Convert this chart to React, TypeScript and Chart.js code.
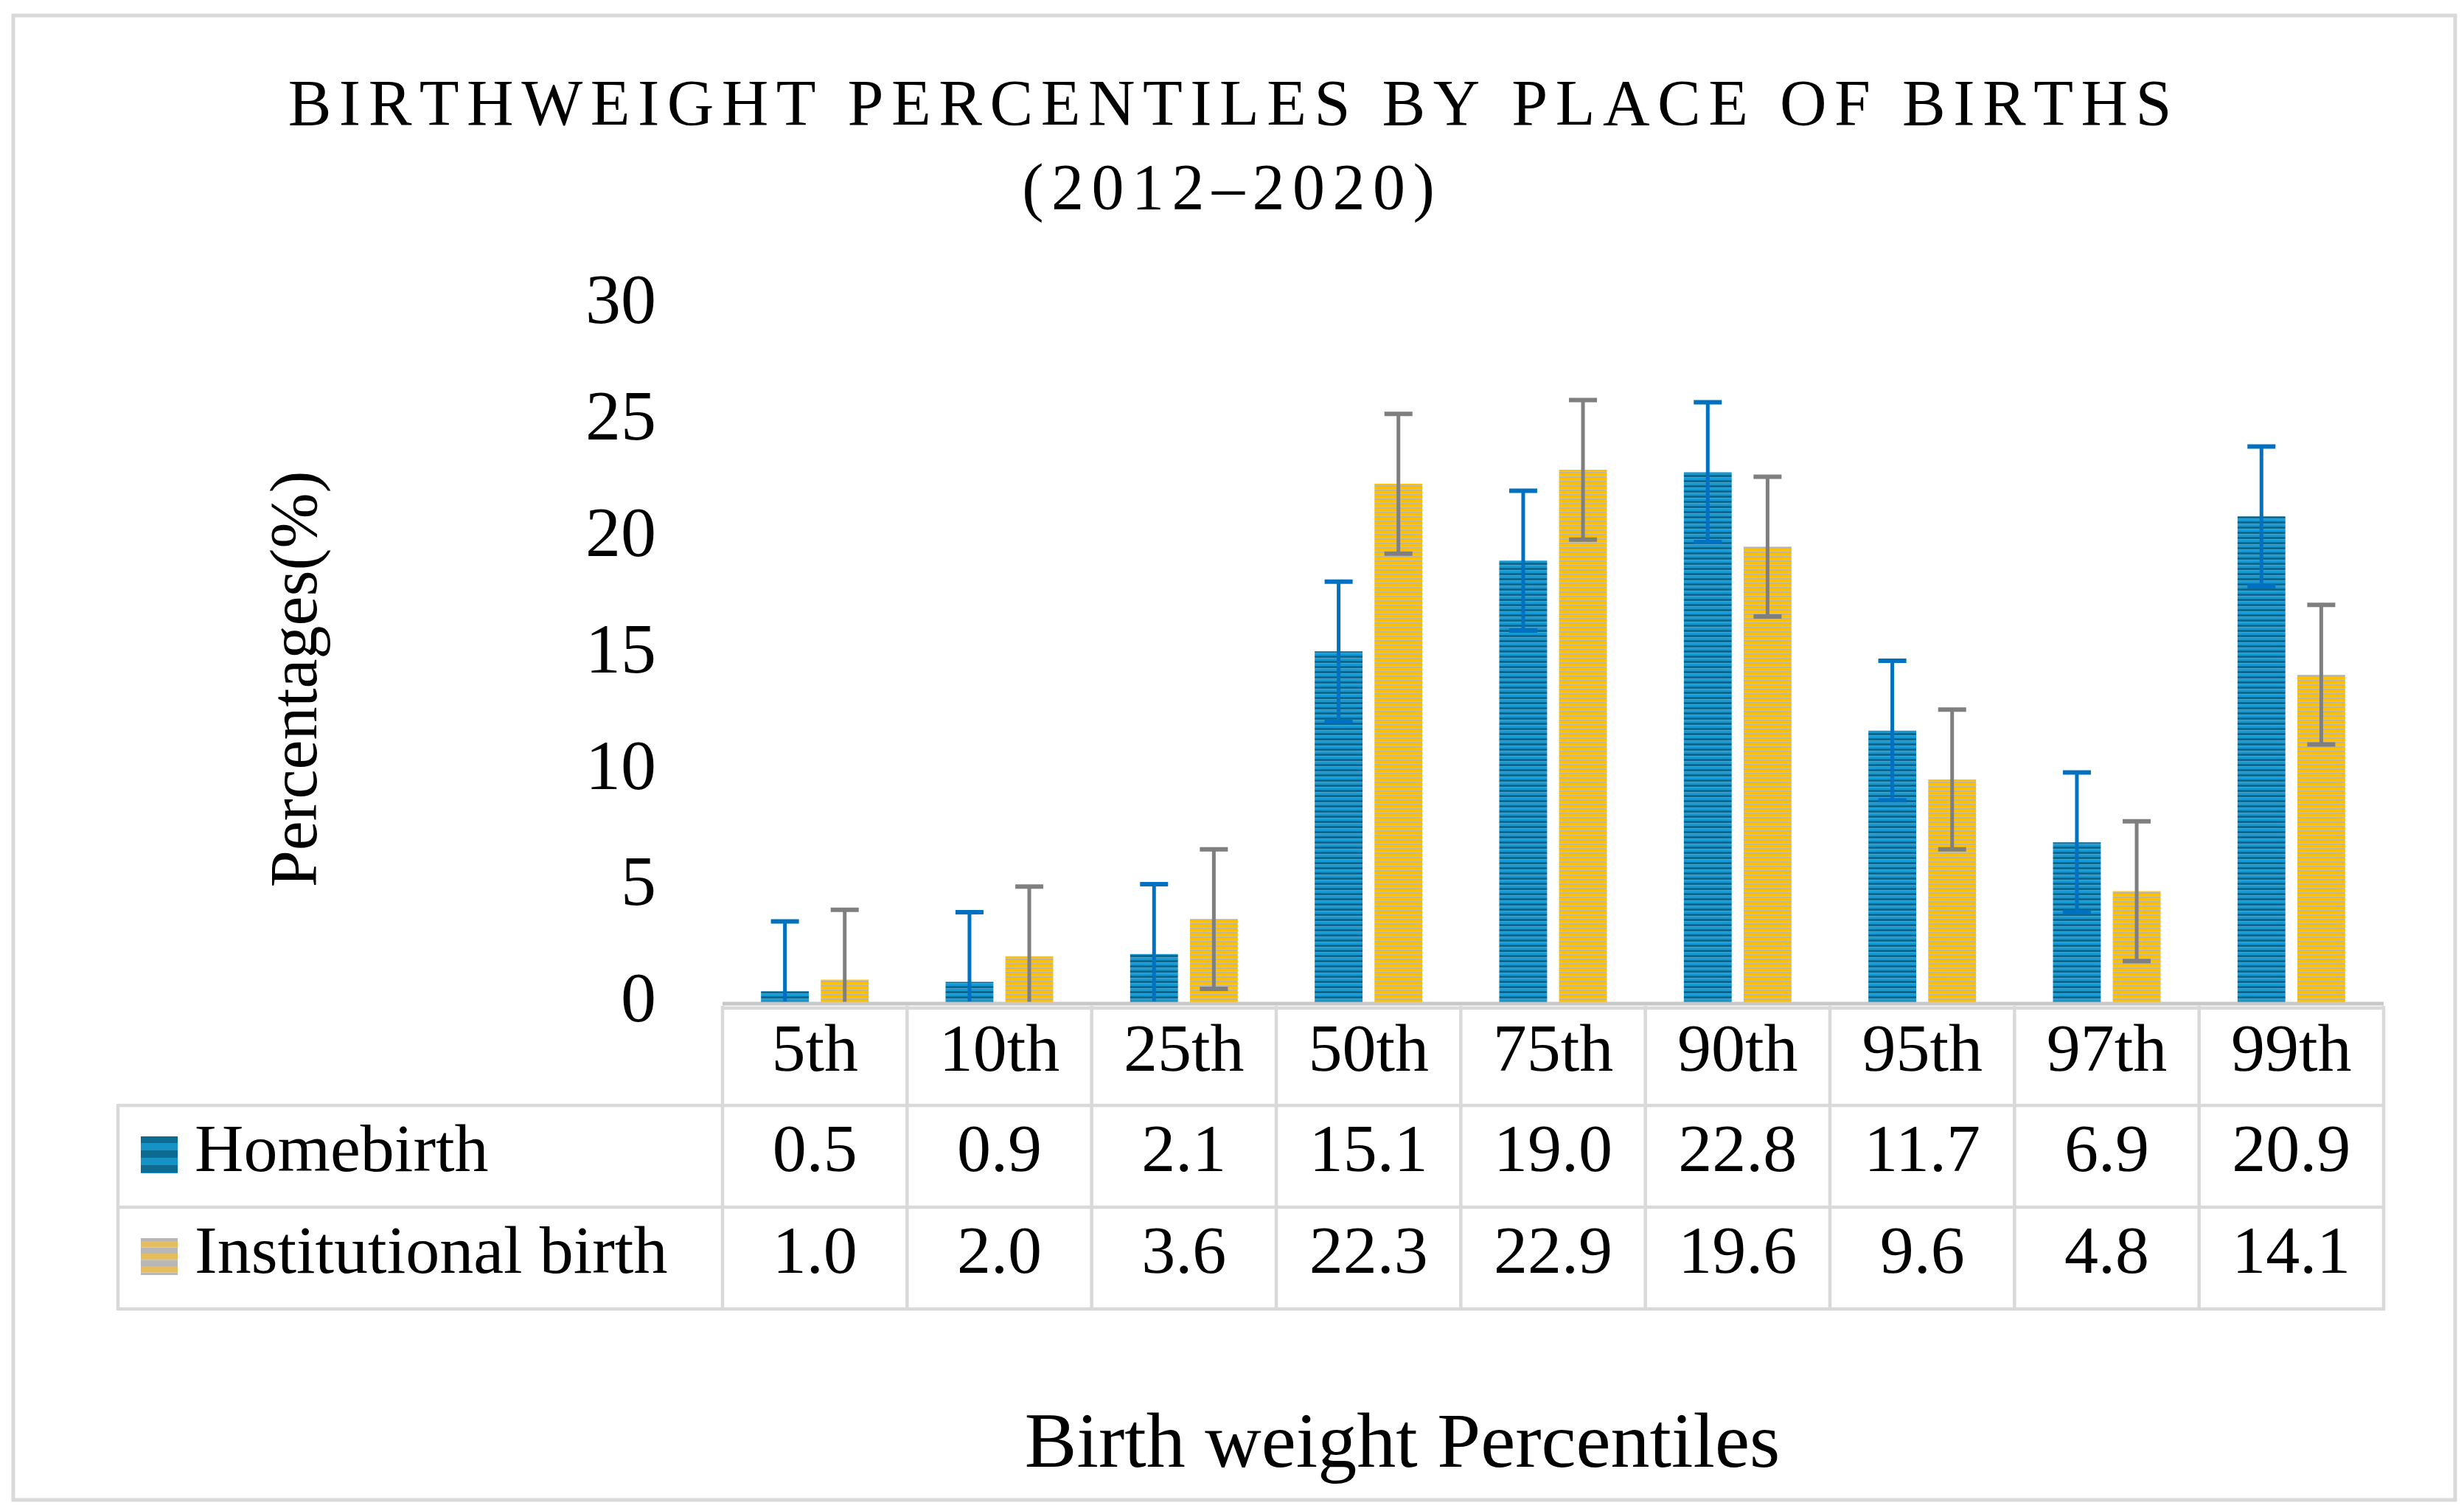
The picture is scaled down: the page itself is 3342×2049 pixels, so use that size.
import React, { useEffect, useRef } from 'react';
import { Chart, registerables } from 'chart.js';

Chart.register(...registerables);

// ---------------- data ----------------
const categories = ['5th', '10th', '25th', '50th', '75th', '90th', '95th', '97th', '99th'];
const homebirth = [0.5, 0.9, 2.1, 15.1, 19.0, 22.8, 11.7, 6.9, 20.9];
const institutional = [1.0, 2.0, 3.6, 22.3, 22.9, 19.6, 9.6, 4.8, 14.1];
const homebirthError = [3, 3, 3, 3, 3, 3, 3, 3, 3];
const institutionalError = [3, 3, 3, 3, 3, 3, 3, 3, 3];
const seriesNames = ['Homebirth', 'Institutional birth'];
const yMin = 0;
const yMax = 30;
const yStep = 5;
const titleLines = ['BIRTHWEIGHT PERCENTILES BY PLACE OF BIRTHS', '(2012\u20132020)'];
const yTitle = 'Percentages(%)';
const xTitle = 'Birth weight Percentiles';

// ---------------- styles ----------------
const W = 3342;
const H = 2049;
const FONT = '"Liberation Serif", "Times New Roman", serif';
const GRID = '#d9d9d9';

function makeStripePattern(a: string, b: string, band: number, tile: number) {
  const c = document.createElement('canvas');
  c.width = 8;
  c.height = tile;
  const g = c.getContext('2d')!;
  for (let y = 0, k = 0; y < tile; y += band, k++) {
    g.fillStyle = k % 2 === 0 ? a : b;
    g.fillRect(0, y, 8, band);
  }
  const ctx = document.createElement('canvas').getContext('2d')!;
  return ctx.createPattern(c, 'repeat')!;
}

function drawSpaced(ctx: CanvasRenderingContext2D, text: string, cx: number, y: number, spacing: number) {
  const chars = Array.from(text);
  const widths = chars.map((ch) => ctx.measureText(ch).width);
  const total = widths.reduce((s, v) => s + v, 0) + spacing * (chars.length - 1);
  let x = cx - total / 2;
  ctx.textAlign = 'left';
  chars.forEach((ch, i) => {
    ctx.fillText(ch, x, y);
    x += widths[i] + spacing;
  });
}

export default function App() {
  const ref = useRef<HTMLCanvasElement | null>(null);

  useEffect(() => {
    const canvas = ref.current!;
    const homePattern = makeStripePattern('#0a6790', '#1399d4', 3.5, 7);
    const instPattern = makeStripePattern('#ffc000', '#b5b5b5', 3.25, 6.5);
    const homeLegend = makeStripePattern('#0d6b91', '#1692c4', 10, 20);
    const instLegend = makeStripePattern('#e5bd5c', '#b7b7b7', 8.5, 17);

    const errors = [homebirthError, institutionalError];
    const errColors = ['#0070c0', '#7f7f7f'];
    const legendFills = [homeLegend, instLegend];
    const rows = [homebirth, institutional];

    const decor = {
      id: 'decor',
      beforeDraw(chart: any) {
        const ctx = chart.ctx;
        ctx.save();
        ctx.fillStyle = '#ffffff';
        ctx.fillRect(0, 0, chart.width, chart.height);
        ctx.restore();
      },
      afterDatasetsDraw(chart: any) {
        const ctx = chart.ctx as CanvasRenderingContext2D;
        const ys = chart.scales.y;
        ctx.save();
        ctx.lineCap = 'butt';
        chart.data.datasets.forEach((ds: any, d: number) => {
          const meta = chart.getDatasetMeta(d);
          ctx.strokeStyle = errColors[d];
          meta.data.forEach((bar: any, i: number) => {
            const v = ds.data[i];
            const e = errors[d][i];
            const hi = v + e;
            const lo = Math.max(yMin, v - e);
            const x = bar.x;
            const yHi = ys.getPixelForValue(hi);
            const yLo = ys.getPixelForValue(lo);
            ctx.lineWidth = 5;
            ctx.beginPath();
            ctx.moveTo(x, yLo);
            ctx.lineTo(x, yHi);
            ctx.stroke();
            const cap = 19;
            ctx.lineWidth = 6;
            ctx.beginPath();
            ctx.moveTo(x - cap, yHi);
            ctx.lineTo(x + cap, yHi);
            if (v - e >= yMin) {
              ctx.moveTo(x - cap, yLo);
              ctx.lineTo(x + cap, yLo);
            }
            ctx.stroke();
          });
        });
        ctx.restore();
      },
      afterDraw(chart: any) {
        const ctx = chart.ctx as CanvasRenderingContext2D;
        const area = chart.chartArea;
        const ys = chart.scales.y;
        const xs = chart.scales.x;
        const n = categories.length;
        const cw = (area.right - area.left) / n;
        const axisY = ys.getPixelForValue(yMin);
        const tableLeft = 160;
        const rowEdges = [axisY + 4, 1499, 1637, 1775];

        ctx.save();
        // axis line
        ctx.strokeStyle = '#c8c8c8';
        ctx.lineWidth = 5;
        ctx.beginPath();
        ctx.moveTo(area.left, axisY + 1);
        ctx.lineTo(area.right, axisY + 1);
        ctx.stroke();

        // table grid
        ctx.strokeStyle = GRID;
        ctx.lineWidth = 4.5;
        ctx.beginPath();
        ctx.moveTo(area.left, rowEdges[0] + 3);
        ctx.lineTo(area.right, rowEdges[0] + 3);
        for (let r = 1; r < rowEdges.length; r++) {
          ctx.moveTo(tableLeft, rowEdges[r]);
          ctx.lineTo(area.right + 2, rowEdges[r]);
        }
        for (let i = 0; i <= n; i++) {
          const x = area.left + i * cw;
          ctx.moveTo(x, rowEdges[0]);
          ctx.lineTo(x, rowEdges[3] + 2);
        }
        ctx.moveTo(tableLeft, rowEdges[1] - 2);
        ctx.lineTo(tableLeft, rowEdges[3] + 2);
        ctx.stroke();

        // table text
        ctx.fillStyle = '#000000';
        ctx.font = `92px ${FONT}`;
        ctx.textAlign = 'center';
        ctx.textBaseline = 'middle';
        const rowMid = (r: number) => (rowEdges[r] + rowEdges[r + 1]) / 2 - 4;
        categories.forEach((c, i) => {
          ctx.fillText(c, xs.getPixelForValue(i), rowMid(0));
        });
        rows.forEach((vals, r) => {
          vals.forEach((v, i) => {
            ctx.fillText(v.toFixed(1), xs.getPixelForValue(i), rowMid(r + 1));
          });
        });
        // legend cells
        rows.forEach((_, r) => {
          const cy = rowMid(r + 1) + 2;
          ctx.fillStyle = legendFills[r];
          ctx.fillRect(191, cy - 25, 50, 50);
          ctx.fillStyle = '#000000';
          ctx.textAlign = 'left';
          ctx.fillText(seriesNames[r], 264, rowMid(r + 1));
        });

        // titles
        ctx.fillStyle = '#000000';
        ctx.textBaseline = 'alphabetic';
        ctx.font = `88px ${FONT}`;
        drawSpaced(ctx, titleLines[0], 1668, 169, 10.5);
        drawSpaced(ctx, titleLines[1], 1666, 283, 10.5);

        ctx.font = `106px ${FONT}`;
        ctx.textAlign = 'center';
        ctx.fillText(xTitle, 1902, 1989);

        ctx.save();
        ctx.translate(429, 921);
        ctx.rotate(-Math.PI / 2);
        ctx.font = `90px ${FONT}`;
        ctx.textAlign = 'center';
        ctx.textBaseline = 'alphabetic';
        ctx.fillText(yTitle, 0, 0);
        ctx.restore();

        // outer border
        ctx.strokeStyle = GRID;
        ctx.lineWidth = 5;
        ctx.strokeRect(18, 21, 3312, 2013);
        ctx.restore();
      },
    };

    const chart = new Chart(canvas, {
      type: 'bar',
      data: {
        labels: categories,
        datasets: [
          { label: seriesNames[0], data: homebirth, backgroundColor: homePattern as any, borderWidth: 0 },
          { label: seriesNames[1], data: institutional, backgroundColor: instPattern as any, borderWidth: 0 },
        ],
      },
      options: {
        responsive: false,
        animation: false,
        layout: { padding: { left: 780, right: 109, top: 413, bottom: 689 } },
        datasets: { bar: { barPercentage: 0.8, categoryPercentage: 0.648 } },
        plugins: {
          legend: { display: false },
          title: { display: false },
          tooltip: { enabled: false },
        },
        scales: {
          x: { display: false, offset: true, grid: { display: false } },
          y: {
            min: yMin,
            max: yMax,
            ticks: { stepSize: yStep, padding: 90, color: '#000000', font: { family: FONT, size: 96 } },
            grid: { display: false, drawTicks: false },
            border: { display: false },
            afterFit: (s: any) => {
              s.width = 200;
            },
          },
        },
      },
      plugins: [decor],
    });
    return () => chart.destroy();
  }, []);

  return (
    <div style={{ position: 'fixed', left: 0, top: 0, width: W, height: H, background: '#fff' }}>
      <canvas ref={ref} width={W} height={H} style={{ display: 'block', width: W, height: H }} />
    </div>
  );
}
